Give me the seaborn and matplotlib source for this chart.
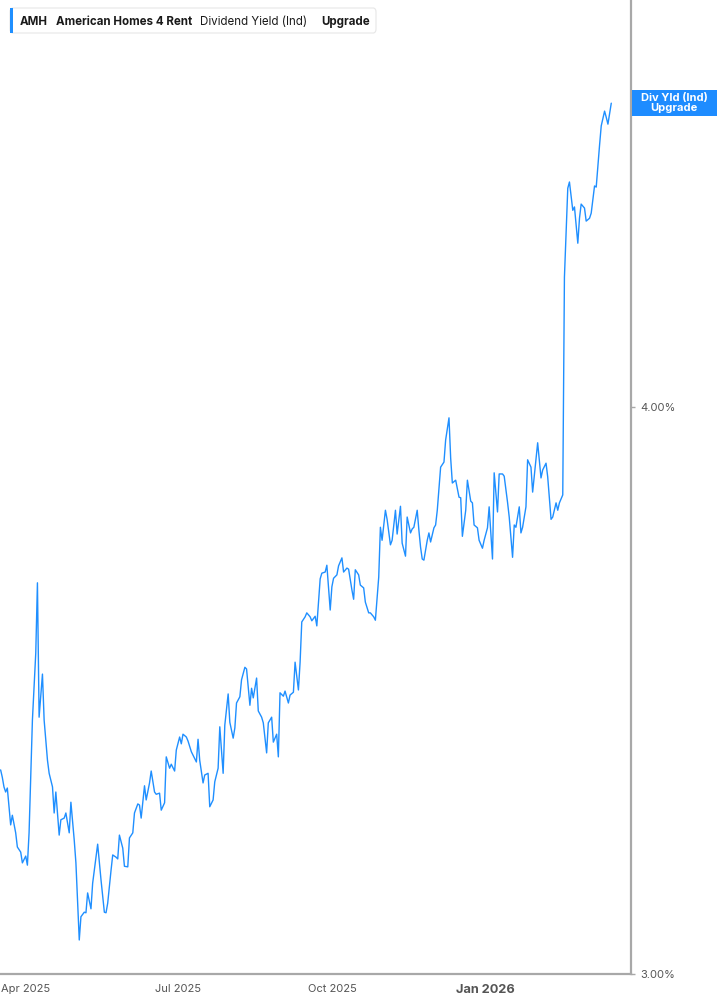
import matplotlib
matplotlib.use("Agg")
import matplotlib.pyplot as plt
import matplotlib.transforms as mtransforms
from matplotlib.patches import Rectangle, FancyBboxPatch
import pandas as pd
import seaborn as sns

# AMH dividend yield (%)
dates = [
    "2025-03-17", "2025-03-18", "2025-03-19", "2025-03-20", "2025-03-21", "2025-03-23", "2025-03-24",
    "2025-03-26", "2025-03-27", "2025-03-29", "2025-03-30", "2025-04-01", "2025-04-02", "2025-04-03",
    "2025-04-05", "2025-04-07", "2025-04-08", "2025-04-09", "2025-04-11", "2025-04-12", "2025-04-14",
    "2025-04-15", "2025-04-17", "2025-04-18", "2025-04-19", "2025-04-21", "2025-04-22", "2025-04-24",
    "2025-04-25", "2025-04-27", "2025-04-28", "2025-04-30", "2025-05-01", "2025-05-03", "2025-05-04",
    "2025-05-06", "2025-05-07", "2025-05-08", "2025-05-10", "2025-05-11", "2025-05-13", "2025-05-14",
    "2025-05-16", "2025-05-18", "2025-05-19", "2025-05-20", "2025-05-22", "2025-05-23", "2025-05-25",
    "2025-05-26", "2025-05-27", "2025-05-29", "2025-05-30", "2025-06-01", "2025-06-02", "2025-06-04",
    "2025-06-05", "2025-06-07", "2025-06-08", "2025-06-09", "2025-06-11", "2025-06-12", "2025-06-14",
    "2025-06-15", "2025-06-17", "2025-06-18", "2025-06-20", "2025-06-21", "2025-06-23", "2025-06-24",
    "2025-06-26", "2025-06-27", "2025-06-29", "2025-06-30", "2025-07-02", "2025-07-03", "2025-07-04",
    "2025-07-06", "2025-07-07", "2025-07-09", "2025-07-10", "2025-07-12", "2025-07-13", "2025-07-14",
    "2025-07-16", "2025-07-17", "2025-07-19", "2025-07-20", "2025-07-22", "2025-07-23", "2025-07-25",
    "2025-07-26", "2025-07-28", "2025-07-29", "2025-07-31", "2025-08-01", "2025-08-03", "2025-08-04",
    "2025-08-05", "2025-08-07", "2025-08-08", "2025-08-10", "2025-08-11", "2025-08-13", "2025-08-14",
    "2025-08-15", "2025-08-17", "2025-08-18", "2025-08-20", "2025-08-21", "2025-08-23", "2025-08-24",
    "2025-08-26", "2025-08-27", "2025-08-29", "2025-08-30", "2025-08-31", "2025-09-02", "2025-09-03",
    "2025-09-05", "2025-09-06", "2025-09-08", "2025-09-09", "2025-09-11", "2025-09-12", "2025-09-13",
    "2025-09-15", "2025-09-16", "2025-09-18", "2025-09-19", "2025-09-21", "2025-09-22", "2025-09-24",
    "2025-09-25", "2025-09-27", "2025-09-28", "2025-09-30", "2025-10-01", "2025-10-02", "2025-10-04",
    "2025-10-05", "2025-10-07", "2025-10-08", "2025-10-10", "2025-10-11", "2025-10-13", "2025-10-14",
    "2025-10-15", "2025-10-17", "2025-10-18", "2025-10-20", "2025-10-21", "2025-10-23", "2025-10-24",
    "2025-10-26", "2025-10-27", "2025-10-29", "2025-10-30", "2025-10-31", "2025-11-02", "2025-11-03",
    "2025-11-05", "2025-11-06", "2025-11-08", "2025-11-09", "2025-11-11", "2025-11-12", "2025-11-14",
    "2025-11-15", "2025-11-17", "2025-11-18", "2025-11-19", "2025-11-21", "2025-11-22", "2025-11-23",
    "2025-11-24", "2025-11-25", "2025-11-27", "2025-11-28", "2025-11-29", "2025-12-01", "2025-12-02",
    "2025-12-03", "2025-12-05", "2025-12-07", "2025-12-08", "2025-12-10", "2025-12-11", "2025-12-12",
    "2025-12-14", "2025-12-16", "2025-12-17", "2025-12-18", "2025-12-20", "2025-12-21", "2025-12-23",
    "2025-12-24", "2025-12-25", "2025-12-27", "2025-12-28", "2025-12-30", "2025-12-31", "2026-01-02",
    "2026-01-03", "2026-01-05", "2026-01-06", "2026-01-08", "2026-01-09", "2026-01-11", "2026-01-12",
    "2026-01-14", "2026-01-15", "2026-01-17", "2026-01-18", "2026-01-19", "2026-01-21", "2026-01-22",
    "2026-01-23", "2026-01-25", "2026-01-26", "2026-01-28", "2026-01-29", "2026-01-31", "2026-02-01",
    "2026-02-03", "2026-02-04", "2026-02-06", "2026-02-07", "2026-02-09", "2026-02-10", "2026-02-12",
    "2026-02-13", "2026-02-14", "2026-02-16", "2026-02-17", "2026-02-19", "2026-02-20", "2026-02-22",
    "2026-02-23", "2026-02-25", "2026-02-26", "2026-02-27", "2026-03-01", "2026-03-02", "2026-03-04",
    "2026-03-05", "2026-03-07", "2026-03-08", "2026-03-10", "2026-03-11", "2026-03-13", "2026-03-14",
    "2026-03-15", "2026-03-17",
]
div_yield = [
    3.360, 3.347, 3.330, 3.321, 3.328, 3.263, 3.280, 3.249, 3.224, 3.215, 3.196, 3.208, 3.192, 3.249,
    3.448, 3.566, 3.690, 3.453, 3.529, 3.448, 3.377, 3.354, 3.330, 3.284, 3.321, 3.245, 3.272, 3.275,
    3.284, 3.249, 3.303, 3.236, 3.196, 3.060, 3.101, 3.109, 3.108, 3.143, 3.115, 3.160, 3.206, 3.229,
    3.166, 3.109, 3.108, 3.125, 3.183, 3.210, 3.206, 3.203, 3.245, 3.222, 3.190, 3.189, 3.240, 3.249,
    3.284, 3.300, 3.298, 3.275, 3.332, 3.307, 3.337, 3.358, 3.321, 3.317, 3.319, 3.289, 3.302, 3.383,
    3.363, 3.370, 3.358, 3.395, 3.418, 3.406, 3.423, 3.418, 3.411, 3.392, 3.386, 3.374, 3.414, 3.377,
    3.337, 3.351, 3.354, 3.295, 3.307, 3.339, 3.363, 3.436, 3.354, 3.439, 3.494, 3.444, 3.416, 3.434,
    3.478, 3.489, 3.519, 3.541, 3.538, 3.474, 3.504, 3.487, 3.522, 3.464, 3.453, 3.443, 3.390, 3.443,
    3.453, 3.409, 3.423, 3.383, 3.496, 3.490, 3.499, 3.478, 3.492, 3.497, 3.550, 3.501, 3.550, 3.621,
    3.630, 3.637, 3.630, 3.623, 3.631, 3.614, 3.697, 3.707, 3.709, 3.721, 3.642, 3.683, 3.698, 3.704,
    3.720, 3.734, 3.709, 3.716, 3.714, 3.677, 3.661, 3.713, 3.704, 3.686, 3.681, 3.656, 3.637, 3.637,
    3.630, 3.624, 3.700, 3.788, 3.765, 3.818, 3.802, 3.757, 3.765, 3.818, 3.776, 3.825, 3.760, 3.737,
    3.806, 3.778, 3.785, 3.788, 3.818, 3.783, 3.753, 3.732, 3.730, 3.765, 3.778, 3.762, 3.787, 3.792,
    3.818, 3.894, 3.903, 3.942, 3.981, 3.910, 3.866, 3.871, 3.841, 3.840, 3.772, 3.818, 3.871, 3.834,
    3.831, 3.792, 3.787, 3.765, 3.751, 3.765, 3.787, 3.824, 3.732, 3.884, 3.815, 3.882, 3.882, 3.878,
    3.832, 3.806, 3.735, 3.792, 3.788, 3.824, 3.778, 3.788, 3.824, 3.907, 3.894, 3.850, 3.907, 3.937,
    3.875, 3.889, 3.901, 3.877, 3.802, 3.806, 3.831, 3.818, 3.831, 3.845, 4.229, 4.386, 4.397, 4.347,
    4.353, 4.289, 4.333, 4.358, 4.351, 4.328, 4.333, 4.342, 4.390, 4.388, 4.462, 4.496, 4.522, 4.511,
    4.499, 4.536,
]

tick_dates = ["2025-04-01", "2025-07-01", "2025-10-01", "2026-01-01"]
tick_labels = ["Apr 2025", "Jul 2025", "Oct 2025", "Jan 2026"]
y_ticks = [3.0, 4.0]
y_tick_labels = ["3.00%", "4.00%"]

LINE = "#1f8fff"
AXIS = "#a8a8a8"
TXT = "#555555"

sns.set_style("white")
plt.rcParams["font.family"] = ["Inter", "DejaVu Sans"]

df = pd.DataFrame({"date": pd.to_datetime(dates), "yield": div_yield})

fig = plt.figure(figsize=(7.17, 10.05), dpi=100)
ax = fig.add_axes([0, 31 / 1005, 631 / 717, 974 / 1005])

sns.lineplot(data=df, x="date", y="yield", ax=ax, color=LINE, linewidth=1.0)

ax.set_xlim(pd.Timestamp("2025-03-16 15:00"), pd.Timestamp("2026-03-28 19:00"))
ax.set_ylim(3.0, 4.718)
ax.set_xlabel("")
ax.set_ylabel("")

for s in ["top", "left"]:
    ax.spines[s].set_visible(False)
for s in ["right", "bottom"]:
    ax.spines[s].set_color(AXIS)
    ax.spines[s].set_linewidth(1.6)

ax.yaxis.tick_right()
ax.set_yticks(y_ticks)
ax.set_yticklabels(y_tick_labels)
ax.tick_params(axis="y", direction="out", length=3, width=1, color=AXIS,
               labelsize=8, labelcolor=TXT, pad=4)

ax.set_xticks(pd.to_datetime(tick_dates))
ax.set_xticklabels(tick_labels)
ax.tick_params(axis="x", direction="in", length=4, width=1, color=AXIS,
               labelsize=8, labelcolor=TXT, pad=7)
for lbl in ax.get_xticklabels():
    if lbl.get_text() == "Jan 2026":
        lbl.set_fontweight("bold")
        lbl.set_fontsize(9.2)

# value label box on the right axis
last = div_yield[-1]
trans = mtransforms.blended_transform_factory(fig.transFigure, ax.transData)
box_h = 26 / 567
ax.add_patch(Rectangle((632 / 717, last - box_h / 2), 85 / 717, box_h, transform=trans,
                       facecolor="#1e8cff", edgecolor="none", clip_on=False, zorder=5))
ax.text(674 / 717, last, "Div Yld (Ind)\nUpgrade", transform=trans, ha="center", va="center",
        color="white", fontsize=8, fontweight="bold", linespacing=0.95, zorder=6, clip_on=False)

# header legend box
fig.patches.append(FancyBboxPatch((10 / 717, 1 - 33 / 1005), 366 / 717, 25 / 1005,
                                  boxstyle="round,pad=0,rounding_size=0.004",
                                  transform=fig.transFigure, facecolor="white",
                                  edgecolor="#e6e6e6", linewidth=0.8))
fig.patches.append(Rectangle((10 / 717, 1 - 33 / 1005), 3 / 717, 25 / 1005,
                             transform=fig.transFigure, facecolor=LINE, edgecolor="none"))
hy = 1 - 22 / 1005
hs = 8.3
fig.text(20 / 717, hy, "AMH", fontsize=hs, fontweight="bold", color="#1a1a1a", va="center")
fig.text(56 / 717, hy, "American Homes 4 Rent", fontsize=hs, fontweight="bold", color="#1a1a1a", va="center")
fig.text(200 / 717, hy, "Dividend Yield (Ind)", fontsize=hs, color="#1a1a1a", va="center")
fig.text(321 / 717, hy, "Upgrade", fontsize=hs, fontweight="bold", color="#1a1a1a", va="center")

fig.savefig("out.png", dpi=100)
